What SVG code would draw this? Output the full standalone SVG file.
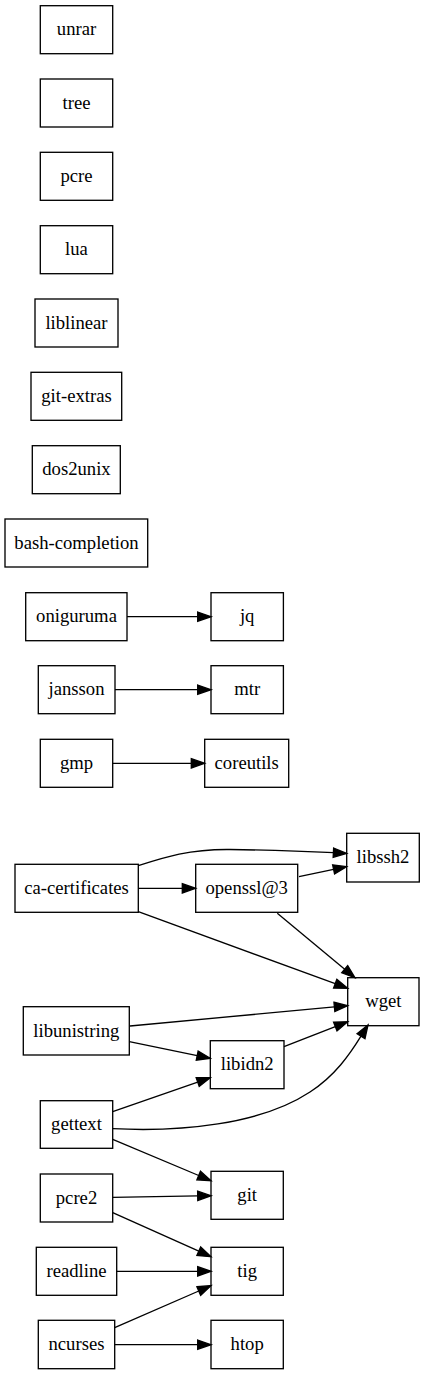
<svg xmlns="http://www.w3.org/2000/svg" width="425" height="1375" viewBox="0 0 425 1375">
<style>
.n rect{fill:#fff;stroke:#000;stroke-width:1.33}
.n text{font-family:"Liberation Serif","Times New Roman",Times,Tinos,"Noto Serif","DejaVu Serif",FreeSerif,serif;font-size:18.67px;text-anchor:middle;fill:#000}
.e path{fill:none;stroke:#000;stroke-width:1.33;marker-end:url(#ah)}
</style>
<defs>
<marker id="ah" markerUnits="userSpaceOnUse" markerWidth="14" markerHeight="10" refX="0" refY="4.67" orient="auto" overflow="visible">
<path d="M0,0 L13.33,4.67 L0,9.33 z" fill="#000" stroke="#000" stroke-width="1.33" stroke-linejoin="miter"/>
</marker>
</defs>
<rect width="425" height="1375" fill="#fff"/>
<g id="nodes" class="n">
<g id="unrar"><rect x="40.3" y="5.7" width="72.4" height="48"/><text x="76.5" y="35.3">unrar</text></g>
<g id="tree"><rect x="40.3" y="79" width="72.4" height="48"/><text x="76.5" y="108.6">tree</text></g>
<g id="pcre"><rect x="40.3" y="152.3" width="72.4" height="48"/><text x="76.5" y="181.9">pcre</text></g>
<g id="lua"><rect x="40.3" y="225.7" width="72.4" height="48"/><text x="76.5" y="255.3">lua</text></g>
<g id="liblinear"><rect x="35" y="299" width="83" height="48"/><text x="76.5" y="328.6">liblinear</text></g>
<g id="git-extras"><rect x="31" y="372.3" width="90.7" height="48"/><text x="76.5" y="401.9">git-extras</text></g>
<g id="dos2unix"><rect x="32.3" y="445.7" width="88" height="48"/><text x="76.5" y="475.3">dos2unix</text></g>
<g id="bash-completion"><rect x="5" y="519" width="142.7" height="48"/><text x="76.5" y="548.6">bash-completion</text></g>
<g id="oniguruma"><rect x="25.7" y="592.7" width="101.3" height="48"/><text x="76.5" y="622.3">oniguruma</text></g>
<g id="jq"><rect x="211" y="592.7" width="72.4" height="48"/><text x="247.2" y="622.3">jq</text></g>
<g id="jansson"><rect x="38.3" y="665.7" width="76.7" height="48"/><text x="76.5" y="695.3">jansson</text></g>
<g id="mtr"><rect x="211" y="665.7" width="72.4" height="48"/><text x="247.2" y="695.3">mtr</text></g>
<g id="gmp"><rect x="40.3" y="739.3" width="72.4" height="48"/><text x="76.5" y="768.9">gmp</text></g>
<g id="coreutils"><rect x="204.7" y="739.3" width="84" height="48"/><text x="246.7" y="768.9">coreutils</text></g>
<g id="ca-certificates"><rect x="15" y="864.3" width="123.3" height="48"/><text x="76.6" y="893.9">ca-certificates</text></g>
<g id="openssl3"><rect x="195.7" y="864.3" width="102" height="48"/><text x="246.7" y="893.9">openssl@3</text></g>
<g id="libssh2"><rect x="346.7" y="833.3" width="72.6" height="48.7"/><text x="383" y="863.3">libssh2</text></g>
<g id="wget"><rect x="347.7" y="977.7" width="71.3" height="48"/><text x="383.3" y="1007.3">wget</text></g>
<g id="libunistring"><rect x="23.3" y="1006.7" width="106" height="48.3"/><text x="76.3" y="1036.5">libunistring</text></g>
<g id="libidn2"><rect x="210.3" y="1040.7" width="73.7" height="48"/><text x="247.2" y="1070.3">libidn2</text></g>
<g id="gettext"><rect x="40.3" y="1100.7" width="72.4" height="47.6"/><text x="76.5" y="1130.1">gettext</text></g>
<g id="git"><rect x="211" y="1171.3" width="72.3" height="48"/><text x="247.2" y="1200.9">git</text></g>
<g id="pcre2"><rect x="40.3" y="1174" width="72.4" height="48"/><text x="76.5" y="1203.6">pcre2</text></g>
<g id="tig"><rect x="211" y="1247.3" width="72.3" height="48"/><text x="247.2" y="1276.9">tig</text></g>
<g id="readline"><rect x="36.3" y="1247.3" width="80.4" height="48"/><text x="76.5" y="1276.9">readline</text></g>
<g id="ncurses"><rect x="38.3" y="1320.3" width="76.4" height="48.4"/><text x="76.5" y="1350.1">ncurses</text></g>
<g id="htop"><rect x="211" y="1320.3" width="72.3" height="48.4"/><text x="247.2" y="1350.1">htop</text></g>
</g>
<g id="edges" class="e">
<path id="oniguruma-jq" d="M127,616.7 L197.7,616.7"/>
<path id="jansson-mtr" d="M115,689.7 L197.7,689.7"/>
<path id="gmp-coreutils" d="M112.7,763.3 L191.3,763.3"/>
<path id="ca-libssh2" d="M138.3,865.7 C165,857 190,849 230,849.5 C265,850 300,851 333.4,852.7"/>
<path id="ca-openssl" d="M138.3,888.3 L182.3,888.3"/>
<path id="openssl-libssh2" d="M299,876.7 L333.6,869.4"/>
<path id="ca-wget" d="M138.3,911.7 L335.2,983.7"/>
<path id="openssl-wget" d="M277.3,913.3 L344.7,969.2"/>
<path id="libunistring-wget" d="M130,1026 L334.4,1006.9"/>
<path id="libunistring-libidn2" d="M129.3,1041.7 L197.2,1055.6"/>
<path id="libidn2-wget" d="M284,1046.7 L335.3,1026.6"/>
<path id="gettext-libidn2" d="M112.7,1111.7 L197.7,1082.1"/>
<path id="gettext-wget" d="M112.7,1128.7 C180,1132 260,1125 310,1092 C335,1076 350,1054 361,1036.2"/>
<path id="gettext-git" d="M112.7,1139.3 L198.7,1175.5"/>
<path id="pcre2-git" d="M112.7,1197.3 L197.7,1195.9"/>
<path id="pcre2-tig" d="M112.7,1212.7 L198.8,1251.2"/>
<path id="readline-tig" d="M116.7,1271.3 L197.7,1271.3"/>
<path id="ncurses-tig" d="M114.7,1327.7 L198.8,1291"/>
<path id="ncurses-htop" d="M114.7,1344.7 L197.7,1344.7"/>
</g>
</svg>
